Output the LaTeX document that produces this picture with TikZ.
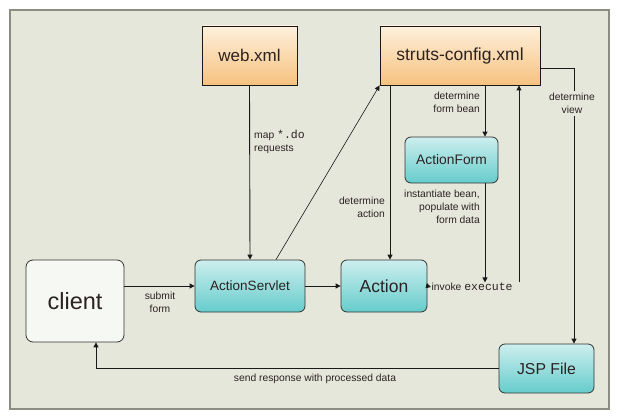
\documentclass[tikz,border=0pt]{standalone}
\usepackage{fontspec}
\setmainfont{Liberation Sans}
\setmonofont{Liberation Mono}
\usetikzlibrary{arrows.meta,calc}
\definecolor{bgc}{HTML}{E6E7DB}
\definecolor{framec}{HTML}{8B8D80}
\definecolor{txtc}{HTML}{2B2222}
\definecolor{orgtop}{HTML}{FEF0DC}
\definecolor{orgbot}{HTML}{F6C27F}
\definecolor{teatop}{HTML}{CDEEEE}
\definecolor{teabot}{HTML}{66CCCC}
\definecolor{clientc}{HTML}{F6F8F4}
\newcommand{\monotxt}[1]{{\fontsize{11.5}{13}\selectfont\texttt{#1}}}
\tikzset{
  xmlbox/.style={draw=black!90, line width=0.9pt, top color=orgtop, bottom color=orgbot, text=txtc, inner sep=0pt},
  tealbox/.style={draw=black!80, line width=0.8pt, rounded corners=6pt, top color=teatop, bottom color=teabot, text=txtc, inner sep=0pt},
  lbl/.style={font=\fontsize{10.3}{13}\selectfont, text=txtc, inner sep=1pt},
  arr/.style={line width=0.9pt, draw=black!90, -{Triangle[length=5pt,width=5pt]}},
  thinarr/.style={line width=0.6pt, draw=black!90, -{Triangle[length=5pt,width=5pt]}},
}
\begin{document}
\begin{tikzpicture}[x=1pt,y=-1pt]
\useasboundingbox (0,0) rectangle (619,420);
\fill[white] (0,0) rectangle (619,420);
\draw[fill=bgc, draw=framec, line width=1.5pt] (10,10) rectangle (609,409);

% nodes
\node[xmlbox, minimum width=95pt, minimum height=59pt, font=\fontsize{17}{20}\selectfont] (web) at (249.5,55.5) {web.xml};
\node[xmlbox, minimum width=160pt, minimum height=59pt, font=\fontsize{17.5}{20}\selectfont] (struts) at (460,55.5) {struts-config.xml};
\node[tealbox, minimum width=93pt, minimum height=46pt, font=\fontsize{13.8}{16}\selectfont] (af) at (451.5,160) {ActionForm};
\node[draw=black!80, line width=0.8pt, rounded corners=7pt, fill=clientc, text=txtc, minimum width=98pt, minimum height=82pt, font=\fontsize{23.5}{26}\selectfont, inner sep=0pt] (client) at (75,301) {client};
\node[tealbox, minimum width=110pt, minimum height=52pt, font=\fontsize{13.5}{16}\selectfont] (servlet) at (250,286) {ActionServlet};
\node[tealbox, minimum width=86pt, minimum height=52pt, font=\fontsize{17.5}{20}\selectfont] (action) at (384,286) {Action};
\node[tealbox, minimum width=95pt, minimum height=49pt, font=\fontsize{15.8}{18}\selectfont] (jsp) at (546.5,368.5) {JSP File};
\node[lbl, anchor=west, inner sep=0.5pt] (inv) at (431,287) {invoke \monotxt{execute}};

% helper coordinates
\coordinate (cF) at (485,0);
\coordinate (cE) at (519,0);
\coordinate (cA) at (390,0);
\coordinate (cV) at (574,68);
\coordinate (cC) at (96,0);
\coordinate (cS) at (276,0);

% connectors
\draw[arr] (web.south) -- (servlet.north);
\draw[arr] (client.east |- servlet.west) -- (servlet.west);
\draw[thinarr] (servlet.north -| cS) -- (struts.south west);
\draw[arr] (servlet.east) -- (action.west);
\draw[arr] (struts.south -| cA) -- (action.north -| cA);
\draw[arr] (struts.south -| cF) -- (af.north -| cF);
\draw[arr] (af.south -| cF) -- (inv.north -| cF);
\draw[arr] (action.east) -- (inv.west);
\draw[arr] (inv.north -| cE) -- (struts.south -| cE);
\draw[arr] (struts.east |- cV) -- (cV) -- (jsp.north -| cV);
\draw[arr] (jsp.west) -- (jsp.west -| cC) -- (client.south -| cC);

% labels
\node[lbl, anchor=west, align=left] at (253,142) {map \monotxt{*.do}\\requests};
\node[lbl, align=center] at (160,302) {submit\\form};
\node[lbl, anchor=east, align=right] at (386,207) {determine\\action};
\node[lbl, anchor=east, align=right] at (481,102.5) {determine\\form bean};
\node[lbl, anchor=east, align=right] at (481,207) {instantiate bean,\\populate with\\form data};
\node[lbl, align=center, fill=bgc, inner sep=2pt] at (572,103.5) {determine\\view};
\node[lbl] at (315,378.5) {send response with processed data};
\end{tikzpicture}
\end{document}
